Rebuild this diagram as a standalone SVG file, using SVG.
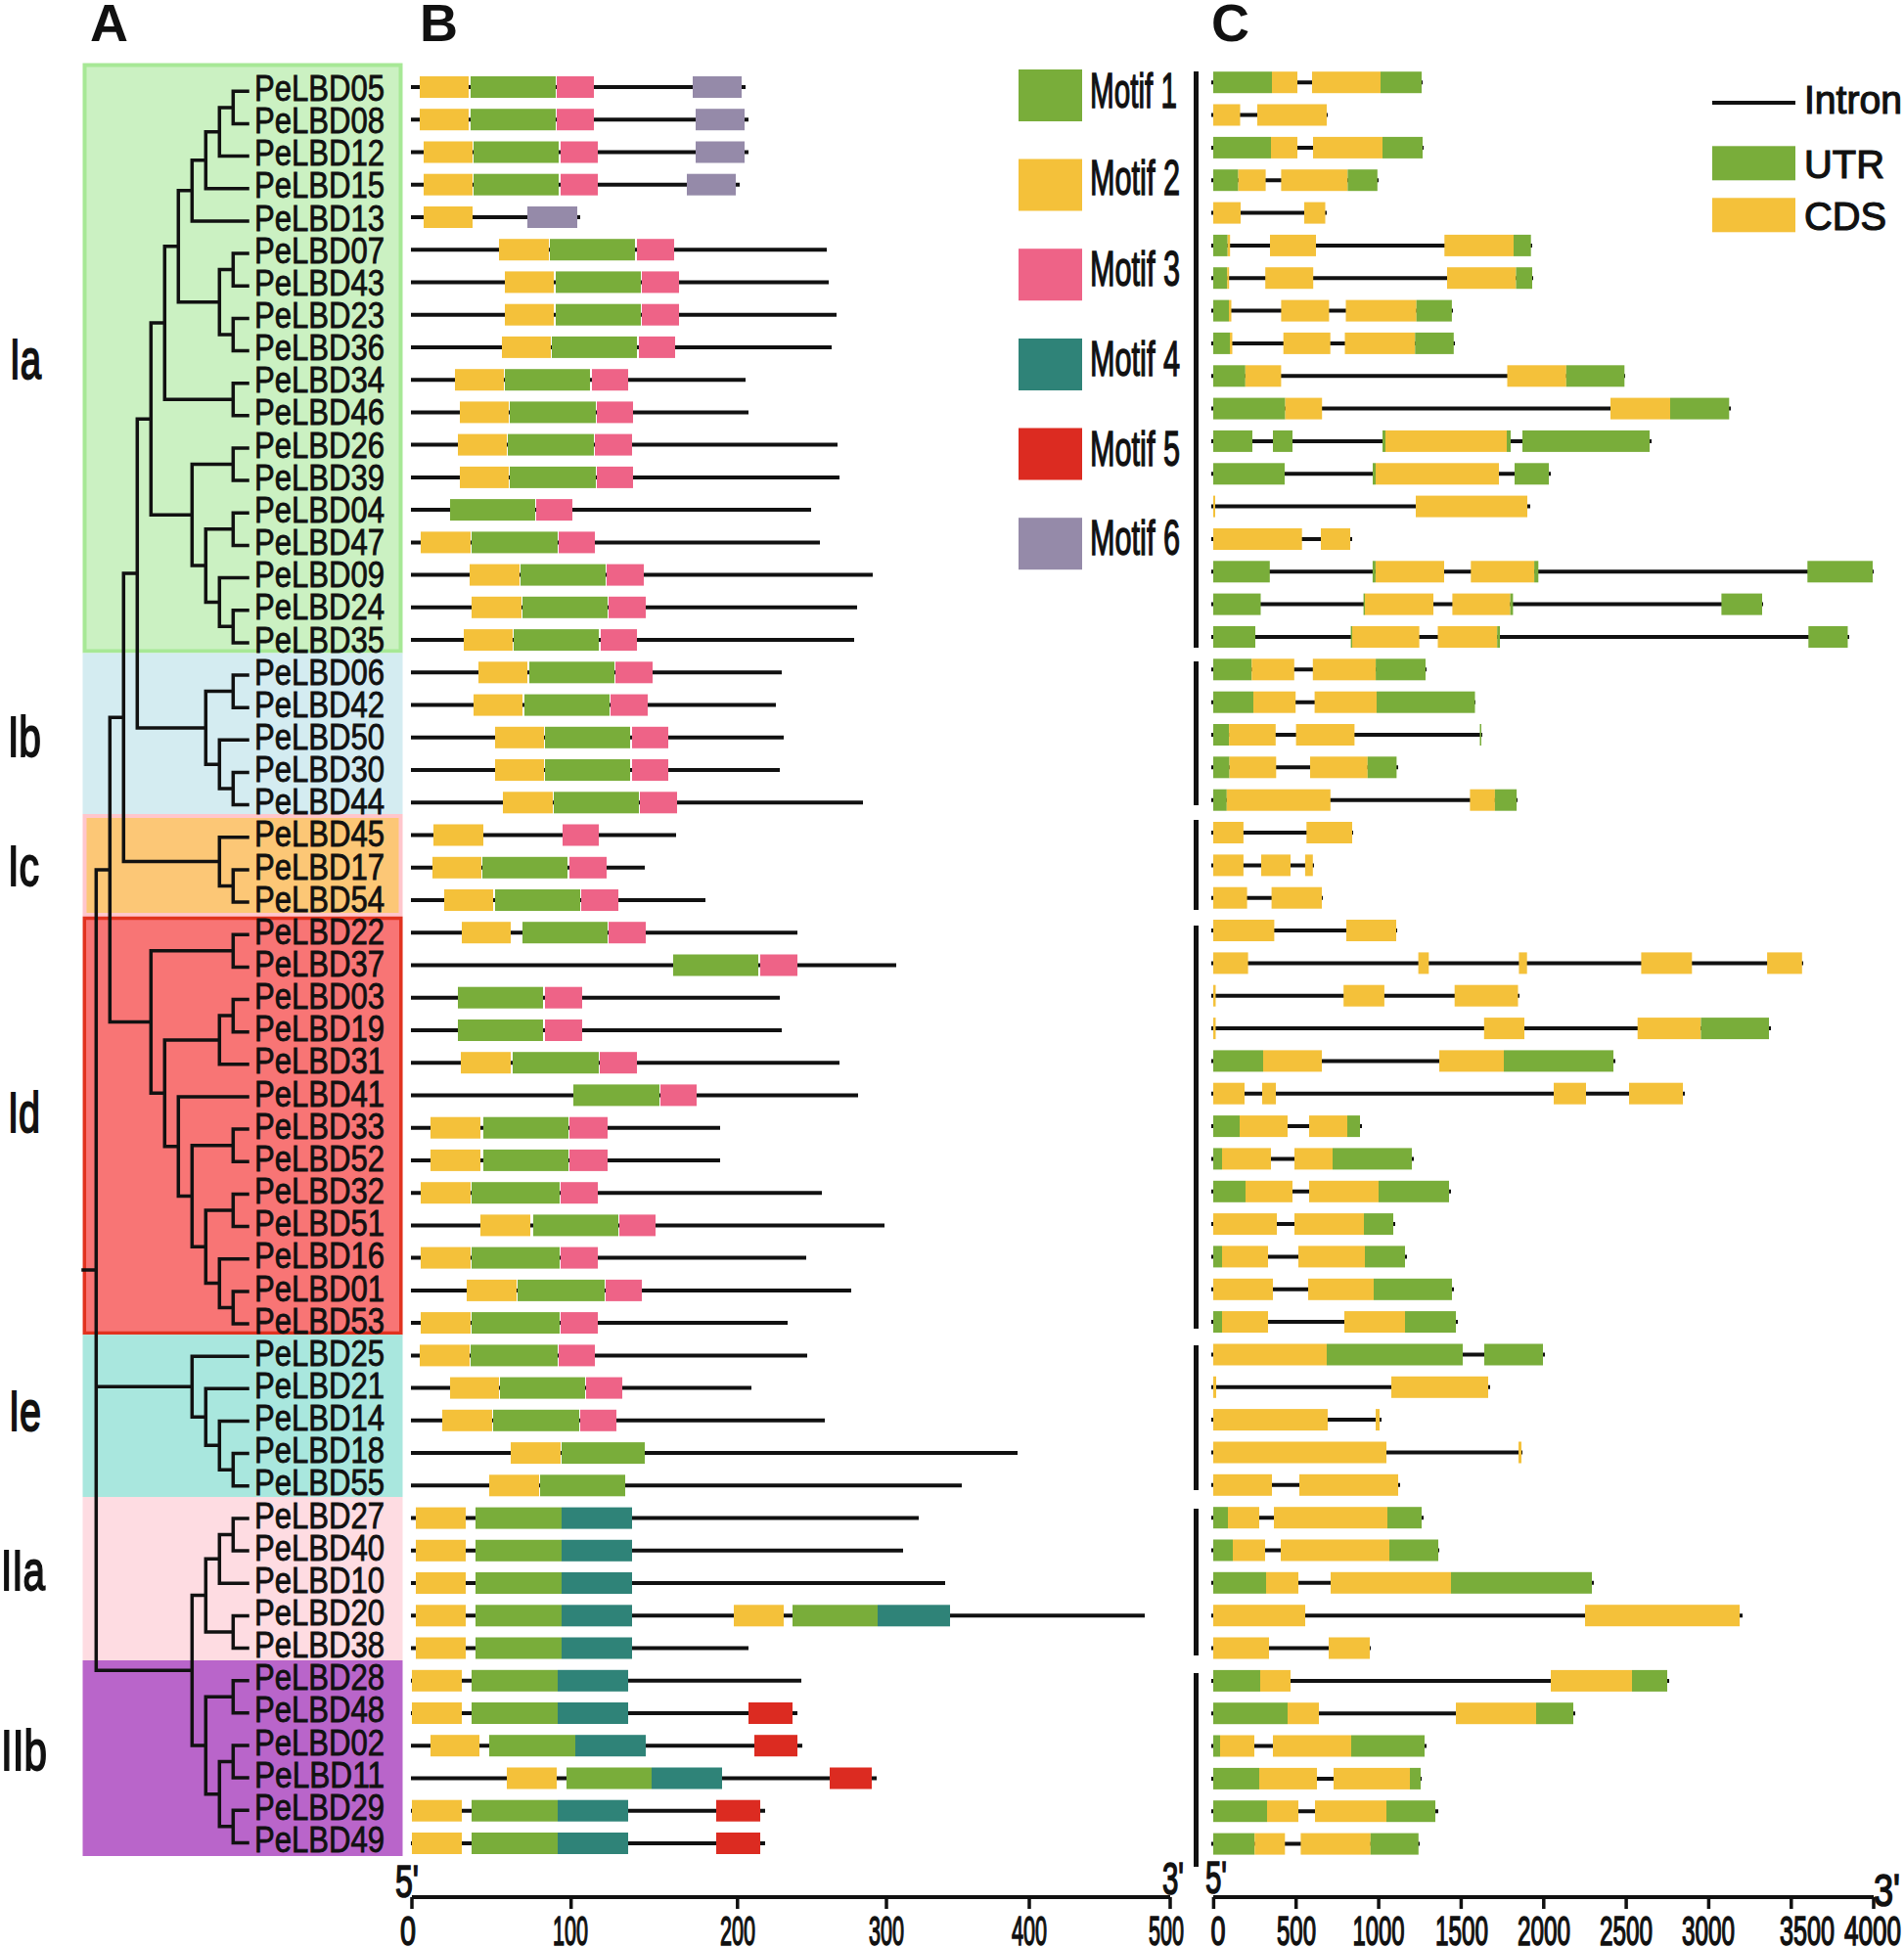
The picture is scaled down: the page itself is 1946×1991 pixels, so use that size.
<svg xmlns="http://www.w3.org/2000/svg" width="1946" height="1991" viewBox="0 0 1946 1991">
<style>
text{font-family:"Liberation Sans",Arial,sans-serif;fill:#111;stroke:#111}
.lbl{font-size:36px;stroke-width:0.8}
.grp{font-size:57px;stroke-width:1.8}
.pl{font-size:54px;font-weight:bold;stroke-width:0}
.mt{font-size:50px;stroke-width:1.4}
.lg{font-size:41px;stroke-width:1.2}
.ax{font-size:42px;text-anchor:middle;stroke-width:1.6}
.pr{font-size:46px;stroke-width:1.6}
.ln{stroke:#111;stroke-width:4;fill:none}
.tk{stroke:#111;stroke-width:3.5;fill:none}
.g{fill:#79ad3a}
.y{fill:#f4c13a}
.p{fill:#ee6387}
.t{fill:#2f8378}
.r{fill:#dc2b21}
.v{fill:#958aa9}
.bar{fill:#111}
.tree{fill:none;stroke:#111;stroke-width:3.5;stroke-linecap:square}
</style>
<rect width="1946" height="1991" fill="#fff"/>

<g id="panel-letters">
<text class="pl" x="92" y="42">A</text>
<text class="pl" x="429" y="42">B</text>
<text class="pl" x="1238" y="42">C</text>
</g>

<g id="clade-backgrounds">
<rect id="bg-Ia" x="86.5" y="66.5" width="323" height="599" fill="#cbf1c2" stroke="#a7e896" stroke-width="4"/>
<rect id="bg-Ib" x="84.5" y="667.5" width="327" height="164.5" fill="#d4ecf1"/>
<rect id="bg-Ic" x="86.5" y="834" width="323" height="101" fill="#fcc776" stroke="#ffc6cc" stroke-width="4"/>
<rect id="bg-Id" x="86.3" y="938.5" width="323.5" height="424" fill="#f87575" stroke="#e1321f" stroke-width="3.5"/>
<rect id="bg-Ie" x="84.5" y="1364.2" width="327" height="165.8" fill="#a9e7de"/>
<rect id="bg-IIa" x="84.5" y="1530" width="327" height="167" fill="#fedce2"/>
<rect id="bg-IIb" x="84.5" y="1697" width="327" height="200" fill="#b965ca"/>
</g>

<g id="clade-labels">
<text class="grp" x="10" y="387" textLength="32" lengthAdjust="spacingAndGlyphs">Ia</text>
<text class="grp" x="8" y="773" textLength="34" lengthAdjust="spacingAndGlyphs">Ib</text>
<text class="grp" x="8" y="905" textLength="32" lengthAdjust="spacingAndGlyphs">Ic</text>
<text class="grp" x="8" y="1157" textLength="33" lengthAdjust="spacingAndGlyphs">Id</text>
<text class="grp" x="9" y="1462" textLength="33" lengthAdjust="spacingAndGlyphs">Ie</text>
<text class="grp" x="1" y="1625" textLength="45" lengthAdjust="spacingAndGlyphs">IIa</text>
<text class="grp" x="1" y="1809" textLength="47" lengthAdjust="spacingAndGlyphs">IIb</text>
</g>

<g id="connectors">
<path class="tree" d="M85 1298.1H98.3M98.3 888.9V1707.3M98.3 888.9H112.3M98.3 1417.2H196.3M98.3 1707.3H196.3
M112.3 733.3V1044.6M112.3 733.3H126.3M112.3 1044.6H154.3
M126.3 586V880.6M126.3 586H140.3M126.3 880.6H224.3
M140.3 428.2V743.9M140.3 428.2H154.3M140.3 743.9H210.3
M154.3 330V526.3M154.3 330H168.3M154.3 526.3H196.3
M168.3 251.8V408.2M168.3 251.8H182.3M168.3 408.2H238.3
M182.3 194.8V308.8M182.3 194.8H196.3M182.3 308.8H224.3
M196.3 163.7V225.9M196.3 163.7H210.3M196.3 225.9H253
M210.3 134.7V192.8M210.3 134.7H224.3M210.3 192.8H253
M224.3 109.9V159.6M224.3 109.9H238.3M224.3 159.6H253
M253 93.3H238.3V126.5H253
M224.3 275.6V341.9M224.3 275.6H238.3M224.3 341.9H238.3
M253 259.1H238.3V292.2H253
M253 325.4H238.3V358.5H253
M253 391.7H238.3V424.8H253
M196.3 474.5V578.1M196.3 474.5H238.3M196.3 578.1H210.3
M253 458H238.3V491.1H253
M210.3 540.8V615.4M210.3 540.8H238.3M210.3 615.4H224.3
M253 524.3H238.3V557.4H253
M224.3 590.6V640.3M224.3 590.6H253M224.3 640.3H238.3
M253 623.7H238.3V656.9H253
M210.3 706.6V781.2M210.3 706.6H238.3M210.3 781.2H224.3
M253 690H238.3V723.2H253
M224.3 756.3V806M224.3 756.3H253M224.3 806H238.3
M253 789.5H238.3V822.6H253
M224.3 855.8V905.5M224.3 855.8H253M224.3 905.5H238.3
M253 888.9H238.3V922.1H253
M154.3 971.8V1117.3M154.3 971.8H238.3M154.3 1117.3H168.3
M253 955.2H238.3V988.4H253
M168.3 1062.9V1171.7M168.3 1062.9H224.3M168.3 1171.7H182.3
M224.3 1038.1V1087.8M224.3 1038.1H238.3M224.3 1087.8H253
M253 1021.5H238.3V1054.7H253
M182.3 1121V1222.5M182.3 1121H253M182.3 1222.5H196.3
M196.3 1170.7V1274.3M196.3 1170.7H238.3M196.3 1274.3H210.3
M253 1154.1H238.3V1187.3H253
M210.3 1237V1311.6M210.3 1237H238.3M210.3 1311.6H224.3
M253 1220.4H238.3V1253.6H253
M224.3 1286.7V1336.4M224.3 1286.7H253M224.3 1336.4H238.3
M253 1319.9H238.3V1353H253
M196.3 1386.2V1448.3M196.3 1386.2H253M196.3 1448.3H210.3
M210.3 1419.3V1477.3M210.3 1419.3H253M210.3 1477.3H224.3
M224.3 1452.5V1502.2M224.3 1452.5H253M224.3 1502.2H238.3
M253 1485.6H238.3V1518.8H253
M196.3 1630.6V1784M196.3 1630.6H210.3M196.3 1784H210.3
M210.3 1593.3V1667.9M210.3 1593.3H224.3M210.3 1667.9H238.3
M224.3 1568.5V1618.2M224.3 1568.5H238.3M224.3 1618.2H253
M253 1551.9H238.3V1585.1H253
M253 1651.4H238.3V1684.5H253
M210.3 1734.2V1833.7M210.3 1734.2H238.3M210.3 1833.7H224.3
M224.3 1800.5V1866.8M224.3 1800.5H238.3M224.3 1866.8H238.3
M253 1717.7H238.3V1750.8H253
M253 1784H238.3V1817.1H253
M253 1850.3H238.3V1883.4H253"/>
</g>

<g id="tree-labels" class="lbl">
<g id="t-PeLBD05"><text x="260" y="102.9" textLength="133" lengthAdjust="spacingAndGlyphs">PeLBD05</text></g>
<g id="t-PeLBD08"><text x="260" y="136.1" textLength="133" lengthAdjust="spacingAndGlyphs">PeLBD08</text></g>
<g id="t-PeLBD12"><text x="260" y="169.2" textLength="133" lengthAdjust="spacingAndGlyphs">PeLBD12</text></g>
<g id="t-PeLBD15"><text x="260" y="202.4" textLength="133" lengthAdjust="spacingAndGlyphs">PeLBD15</text></g>
<g id="t-PeLBD13"><text x="260" y="235.5" textLength="133" lengthAdjust="spacingAndGlyphs">PeLBD13</text></g>
<g id="t-PeLBD07"><text x="260" y="268.7" textLength="133" lengthAdjust="spacingAndGlyphs">PeLBD07</text></g>
<g id="t-PeLBD43"><text x="260" y="301.8" textLength="133" lengthAdjust="spacingAndGlyphs">PeLBD43</text></g>
<g id="t-PeLBD23"><text x="260" y="335" textLength="133" lengthAdjust="spacingAndGlyphs">PeLBD23</text></g>
<g id="t-PeLBD36"><text x="260" y="368.1" textLength="133" lengthAdjust="spacingAndGlyphs">PeLBD36</text></g>
<g id="t-PeLBD34"><text x="260" y="401.3" textLength="133" lengthAdjust="spacingAndGlyphs">PeLBD34</text></g>
<g id="t-PeLBD46"><text x="260" y="434.4" textLength="133" lengthAdjust="spacingAndGlyphs">PeLBD46</text></g>
<g id="t-PeLBD26"><text x="260" y="467.6" textLength="133" lengthAdjust="spacingAndGlyphs">PeLBD26</text></g>
<g id="t-PeLBD39"><text x="260" y="500.7" textLength="133" lengthAdjust="spacingAndGlyphs">PeLBD39</text></g>
<g id="t-PeLBD04"><text x="260" y="533.9" textLength="133" lengthAdjust="spacingAndGlyphs">PeLBD04</text></g>
<g id="t-PeLBD47"><text x="260" y="567" textLength="133" lengthAdjust="spacingAndGlyphs">PeLBD47</text></g>
<g id="t-PeLBD09"><text x="260" y="600.2" textLength="133" lengthAdjust="spacingAndGlyphs">PeLBD09</text></g>
<g id="t-PeLBD24"><text x="260" y="633.3" textLength="133" lengthAdjust="spacingAndGlyphs">PeLBD24</text></g>
<g id="t-PeLBD35"><text x="260" y="666.5" textLength="133" lengthAdjust="spacingAndGlyphs">PeLBD35</text></g>
<g id="t-PeLBD06"><text x="260" y="699.6" textLength="133" lengthAdjust="spacingAndGlyphs">PeLBD06</text></g>
<g id="t-PeLBD42"><text x="260" y="732.8" textLength="133" lengthAdjust="spacingAndGlyphs">PeLBD42</text></g>
<g id="t-PeLBD50"><text x="260" y="765.9" textLength="133" lengthAdjust="spacingAndGlyphs">PeLBD50</text></g>
<g id="t-PeLBD30"><text x="260" y="799.1" textLength="133" lengthAdjust="spacingAndGlyphs">PeLBD30</text></g>
<g id="t-PeLBD44"><text x="260" y="832.2" textLength="133" lengthAdjust="spacingAndGlyphs">PeLBD44</text></g>
<g id="t-PeLBD45"><text x="260" y="865.4" textLength="133" lengthAdjust="spacingAndGlyphs">PeLBD45</text></g>
<g id="t-PeLBD17"><text x="260" y="898.5" textLength="133" lengthAdjust="spacingAndGlyphs">PeLBD17</text></g>
<g id="t-PeLBD54"><text x="260" y="931.7" textLength="133" lengthAdjust="spacingAndGlyphs">PeLBD54</text></g>
<g id="t-PeLBD22"><text x="260" y="964.8" textLength="133" lengthAdjust="spacingAndGlyphs">PeLBD22</text></g>
<g id="t-PeLBD37"><text x="260" y="998" textLength="133" lengthAdjust="spacingAndGlyphs">PeLBD37</text></g>
<g id="t-PeLBD03"><text x="260" y="1031.1" textLength="133" lengthAdjust="spacingAndGlyphs">PeLBD03</text></g>
<g id="t-PeLBD19"><text x="260" y="1064.3" textLength="133" lengthAdjust="spacingAndGlyphs">PeLBD19</text></g>
<g id="t-PeLBD31"><text x="260" y="1097.4" textLength="133" lengthAdjust="spacingAndGlyphs">PeLBD31</text></g>
<g id="t-PeLBD41"><text x="260" y="1130.6" textLength="133" lengthAdjust="spacingAndGlyphs">PeLBD41</text></g>
<g id="t-PeLBD33"><text x="260" y="1163.7" textLength="133" lengthAdjust="spacingAndGlyphs">PeLBD33</text></g>
<g id="t-PeLBD52"><text x="260" y="1196.9" textLength="133" lengthAdjust="spacingAndGlyphs">PeLBD52</text></g>
<g id="t-PeLBD32"><text x="260" y="1230" textLength="133" lengthAdjust="spacingAndGlyphs">PeLBD32</text></g>
<g id="t-PeLBD51"><text x="260" y="1263.2" textLength="133" lengthAdjust="spacingAndGlyphs">PeLBD51</text></g>
<g id="t-PeLBD16"><text x="260" y="1296.3" textLength="133" lengthAdjust="spacingAndGlyphs">PeLBD16</text></g>
<g id="t-PeLBD01"><text x="260" y="1329.5" textLength="133" lengthAdjust="spacingAndGlyphs">PeLBD01</text></g>
<g id="t-PeLBD53"><text x="260" y="1362.6" textLength="133" lengthAdjust="spacingAndGlyphs">PeLBD53</text></g>
<g id="t-PeLBD25"><text x="260" y="1395.8" textLength="133" lengthAdjust="spacingAndGlyphs">PeLBD25</text></g>
<g id="t-PeLBD21"><text x="260" y="1428.9" textLength="133" lengthAdjust="spacingAndGlyphs">PeLBD21</text></g>
<g id="t-PeLBD14"><text x="260" y="1462.1" textLength="133" lengthAdjust="spacingAndGlyphs">PeLBD14</text></g>
<g id="t-PeLBD18"><text x="260" y="1495.2" textLength="133" lengthAdjust="spacingAndGlyphs">PeLBD18</text></g>
<g id="t-PeLBD55"><text x="260" y="1528.4" textLength="133" lengthAdjust="spacingAndGlyphs">PeLBD55</text></g>
<g id="t-PeLBD27"><text x="260" y="1561.5" textLength="133" lengthAdjust="spacingAndGlyphs">PeLBD27</text></g>
<g id="t-PeLBD40"><text x="260" y="1594.7" textLength="133" lengthAdjust="spacingAndGlyphs">PeLBD40</text></g>
<g id="t-PeLBD10"><text x="260" y="1627.8" textLength="133" lengthAdjust="spacingAndGlyphs">PeLBD10</text></g>
<g id="t-PeLBD20"><text x="260" y="1661" textLength="133" lengthAdjust="spacingAndGlyphs">PeLBD20</text></g>
<g id="t-PeLBD38"><text x="260" y="1694.1" textLength="133" lengthAdjust="spacingAndGlyphs">PeLBD38</text></g>
<g id="t-PeLBD28"><text x="260" y="1727.3" textLength="133" lengthAdjust="spacingAndGlyphs">PeLBD28</text></g>
<g id="t-PeLBD48"><text x="260" y="1760.4" textLength="133" lengthAdjust="spacingAndGlyphs">PeLBD48</text></g>
<g id="t-PeLBD02"><text x="260" y="1793.6" textLength="133" lengthAdjust="spacingAndGlyphs">PeLBD02</text></g>
<g id="t-PeLBD11"><text x="260" y="1826.7" textLength="133" lengthAdjust="spacingAndGlyphs">PeLBD11</text></g>
<g id="t-PeLBD29"><text x="260" y="1859.9" textLength="133" lengthAdjust="spacingAndGlyphs">PeLBD29</text></g>
<g id="t-PeLBD49"><text x="260" y="1893" textLength="133" lengthAdjust="spacingAndGlyphs">PeLBD49</text></g>
</g>

<g id="motif-rows">
<g id="m-PeLBD05" transform="translate(0,89)"><path class="ln" d="M420 0H762"/><rect class="y" x="429" y="-11" width="50" height="22"/><rect class="g" x="481" y="-11" width="87" height="22"/><rect class="p" x="569" y="-11" width="38" height="22"/><rect class="v" x="708" y="-11" width="50" height="22"/></g>
<g id="m-PeLBD08" transform="translate(0,122.2)"><path class="ln" d="M420 0H765"/><rect class="y" x="429" y="-11" width="50" height="22"/><rect class="g" x="481" y="-11" width="87" height="22"/><rect class="p" x="569" y="-11" width="38" height="22"/><rect class="v" x="711" y="-11" width="50" height="22"/></g>
<g id="m-PeLBD12" transform="translate(0,155.5)"><path class="ln" d="M420 0H765"/><rect class="y" x="433" y="-11" width="50" height="22"/><rect class="g" x="484" y="-11" width="87" height="22"/><rect class="p" x="573" y="-11" width="38" height="22"/><rect class="v" x="711" y="-11" width="50" height="22"/></g>
<g id="m-PeLBD15" transform="translate(0,188.7)"><path class="ln" d="M420 0H756"/><rect class="y" x="433" y="-11" width="50" height="22"/><rect class="g" x="484" y="-11" width="87" height="22"/><rect class="p" x="573" y="-11" width="38" height="22"/><rect class="v" x="702" y="-11" width="50" height="22"/></g>
<g id="m-PeLBD13" transform="translate(0,222)"><path class="ln" d="M420 0H593"/><rect class="y" x="433" y="-11" width="50" height="22"/><rect class="v" x="539" y="-11" width="51" height="22"/></g>
<g id="m-PeLBD07" transform="translate(0,255.2)"><path class="ln" d="M420 0H845"/><rect class="y" x="510" y="-11" width="51" height="22"/><rect class="g" x="562" y="-11" width="87" height="22"/><rect class="p" x="651" y="-11" width="38" height="22"/></g>
<g id="m-PeLBD43" transform="translate(0,288.4)"><path class="ln" d="M420 0H847"/><rect class="y" x="516" y="-11" width="50" height="22"/><rect class="g" x="568" y="-11" width="87" height="22"/><rect class="p" x="656" y="-11" width="38" height="22"/></g>
<g id="m-PeLBD23" transform="translate(0,321.7)"><path class="ln" d="M420 0H855"/><rect class="y" x="516" y="-11" width="50" height="22"/><rect class="g" x="568" y="-11" width="87" height="22"/><rect class="p" x="656" y="-11" width="38" height="22"/></g>
<g id="m-PeLBD36" transform="translate(0,354.9)"><path class="ln" d="M420 0H850"/><rect class="y" x="513" y="-11" width="50" height="22"/><rect class="g" x="564" y="-11" width="87" height="22"/><rect class="p" x="653" y="-11" width="37" height="22"/></g>
<g id="m-PeLBD34" transform="translate(0,388.2)"><path class="ln" d="M420 0H762"/><rect class="y" x="465" y="-11" width="50" height="22"/><rect class="g" x="516" y="-11" width="87" height="22"/><rect class="p" x="605" y="-11" width="37" height="22"/></g>
<g id="m-PeLBD46" transform="translate(0,421.4)"><path class="ln" d="M420 0H765"/><rect class="y" x="470" y="-11" width="50" height="22"/><rect class="g" x="521" y="-11" width="88" height="22"/><rect class="p" x="610" y="-11" width="37" height="22"/></g>
<g id="m-PeLBD26" transform="translate(0,454.6)"><path class="ln" d="M420 0H856"/><rect class="y" x="468" y="-11" width="50" height="22"/><rect class="g" x="519" y="-11" width="88" height="22"/><rect class="p" x="608" y="-11" width="38" height="22"/></g>
<g id="m-PeLBD39" transform="translate(0,487.9)"><path class="ln" d="M420 0H858"/><rect class="y" x="470" y="-11" width="50" height="22"/><rect class="g" x="521" y="-11" width="88" height="22"/><rect class="p" x="610" y="-11" width="37" height="22"/></g>
<g id="m-PeLBD04" transform="translate(0,521.1)"><path class="ln" d="M420 0H829"/><rect class="g" x="460" y="-11" width="87" height="22"/><rect class="p" x="548" y="-11" width="37" height="22"/></g>
<g id="m-PeLBD47" transform="translate(0,554.4)"><path class="ln" d="M420 0H838"/><rect class="y" x="430" y="-11" width="51" height="22"/><rect class="g" x="482" y="-11" width="88" height="22"/><rect class="p" x="571" y="-11" width="37" height="22"/></g>
<g id="m-PeLBD09" transform="translate(0,587.6)"><path class="ln" d="M420 0H892"/><rect class="y" x="480" y="-11" width="51" height="22"/><rect class="g" x="532" y="-11" width="87" height="22"/><rect class="p" x="620" y="-11" width="38" height="22"/></g>
<g id="m-PeLBD24" transform="translate(0,620.8)"><path class="ln" d="M420 0H876"/><rect class="y" x="482" y="-11" width="51" height="22"/><rect class="g" x="534" y="-11" width="87" height="22"/><rect class="p" x="622" y="-11" width="38" height="22"/></g>
<g id="m-PeLBD35" transform="translate(0,654.1)"><path class="ln" d="M420 0H873"/><rect class="y" x="474" y="-11" width="50" height="22"/><rect class="g" x="525" y="-11" width="87" height="22"/><rect class="p" x="614" y="-11" width="37" height="22"/></g>
<g id="m-PeLBD06" transform="translate(0,687.3)"><path class="ln" d="M420 0H799"/><rect class="y" x="489" y="-11" width="50" height="22"/><rect class="g" x="541" y="-11" width="87" height="22"/><rect class="p" x="629" y="-11" width="38" height="22"/></g>
<g id="m-PeLBD42" transform="translate(0,720.6)"><path class="ln" d="M420 0H793"/><rect class="y" x="484" y="-11" width="50" height="22"/><rect class="g" x="536" y="-11" width="87" height="22"/><rect class="p" x="624" y="-11" width="38" height="22"/></g>
<g id="m-PeLBD50" transform="translate(0,753.8)"><path class="ln" d="M420 0H801"/><rect class="y" x="506" y="-11" width="50" height="22"/><rect class="g" x="557" y="-11" width="87" height="22"/><rect class="p" x="646" y="-11" width="37" height="22"/></g>
<g id="m-PeLBD30" transform="translate(0,787)"><path class="ln" d="M420 0H797"/><rect class="y" x="506" y="-11" width="50" height="22"/><rect class="g" x="557" y="-11" width="87" height="22"/><rect class="p" x="646" y="-11" width="37" height="22"/></g>
<g id="m-PeLBD44" transform="translate(0,820.3)"><path class="ln" d="M420 0H882"/><rect class="y" x="514" y="-11" width="51" height="22"/><rect class="g" x="566" y="-11" width="87" height="22"/><rect class="p" x="654" y="-11" width="38" height="22"/></g>
<g id="m-PeLBD45" transform="translate(0,853.5)"><path class="ln" d="M420 0H691"/><rect class="y" x="443" y="-11" width="51" height="22"/><rect class="p" x="575" y="-11" width="37" height="22"/></g>
<g id="m-PeLBD17" transform="translate(0,886.8)"><path class="ln" d="M420 0H659"/><rect class="y" x="442" y="-11" width="50" height="22"/><rect class="g" x="493" y="-11" width="87" height="22"/><rect class="p" x="582" y="-11" width="38" height="22"/></g>
<g id="m-PeLBD54" transform="translate(0,920)"><path class="ln" d="M420 0H721"/><rect class="y" x="454" y="-11" width="50" height="22"/><rect class="g" x="506" y="-11" width="87" height="22"/><rect class="p" x="594" y="-11" width="38" height="22"/></g>
<g id="m-PeLBD22" transform="translate(0,953.2)"><path class="ln" d="M420 0H815"/><rect class="y" x="472" y="-11" width="50" height="22"/><rect class="g" x="534" y="-11" width="87" height="22"/><rect class="p" x="622" y="-11" width="38" height="22"/></g>
<g id="m-PeLBD37" transform="translate(0,986.5)"><path class="ln" d="M420 0H916"/><rect class="g" x="688" y="-11" width="87" height="22"/><rect class="p" x="777" y="-11" width="38" height="22"/></g>
<g id="m-PeLBD03" transform="translate(0,1019.7)"><path class="ln" d="M420 0H797"/><rect class="g" x="468" y="-11" width="87" height="22"/><rect class="p" x="557" y="-11" width="38" height="22"/></g>
<g id="m-PeLBD19" transform="translate(0,1053)"><path class="ln" d="M420 0H799"/><rect class="g" x="468" y="-11" width="87" height="22"/><rect class="p" x="557" y="-11" width="38" height="22"/></g>
<g id="m-PeLBD31" transform="translate(0,1086.2)"><path class="ln" d="M420 0H858"/><rect class="y" x="471" y="-11" width="51" height="22"/><rect class="g" x="524" y="-11" width="88" height="22"/><rect class="p" x="613" y="-11" width="38" height="22"/></g>
<g id="m-PeLBD41" transform="translate(0,1119.4)"><path class="ln" d="M420 0H877"/><rect class="g" x="586" y="-11" width="88" height="22"/><rect class="p" x="675" y="-11" width="37" height="22"/></g>
<g id="m-PeLBD33" transform="translate(0,1152.7)"><path class="ln" d="M420 0H736"/><rect class="y" x="440" y="-11" width="51" height="22"/><rect class="g" x="494" y="-11" width="87" height="22"/><rect class="p" x="582" y="-11" width="39" height="22"/></g>
<g id="m-PeLBD52" transform="translate(0,1185.9)"><path class="ln" d="M420 0H736"/><rect class="y" x="440" y="-11" width="51" height="22"/><rect class="g" x="494" y="-11" width="87" height="22"/><rect class="p" x="582" y="-11" width="39" height="22"/></g>
<g id="m-PeLBD32" transform="translate(0,1219.2)"><path class="ln" d="M420 0H840"/><rect class="y" x="430" y="-11" width="51" height="22"/><rect class="g" x="482" y="-11" width="90" height="22"/><rect class="p" x="573" y="-11" width="38" height="22"/></g>
<g id="m-PeLBD51" transform="translate(0,1252.4)"><path class="ln" d="M420 0H904"/><rect class="y" x="491" y="-11" width="51" height="22"/><rect class="g" x="545" y="-11" width="87" height="22"/><rect class="p" x="633" y="-11" width="37" height="22"/></g>
<g id="m-PeLBD16" transform="translate(0,1285.6)"><path class="ln" d="M420 0H824"/><rect class="y" x="430" y="-11" width="51" height="22"/><rect class="g" x="482" y="-11" width="90" height="22"/><rect class="p" x="573" y="-11" width="38" height="22"/></g>
<g id="m-PeLBD01" transform="translate(0,1318.9)"><path class="ln" d="M420 0H870"/><rect class="y" x="477" y="-11" width="51" height="22"/><rect class="g" x="529" y="-11" width="89" height="22"/><rect class="p" x="619" y="-11" width="37" height="22"/></g>
<g id="m-PeLBD53" transform="translate(0,1352.1)"><path class="ln" d="M420 0H805"/><rect class="y" x="430" y="-11" width="51" height="22"/><rect class="g" x="482" y="-11" width="90" height="22"/><rect class="p" x="573" y="-11" width="38" height="22"/></g>
<g id="m-PeLBD25" transform="translate(0,1385.4)"><path class="ln" d="M420 0H825"/><rect class="y" x="429" y="-11" width="51" height="22"/><rect class="g" x="481" y="-11" width="89" height="22"/><rect class="p" x="571" y="-11" width="37" height="22"/></g>
<g id="m-PeLBD21" transform="translate(0,1418.6)"><path class="ln" d="M420 0H768"/><rect class="y" x="460" y="-11" width="50" height="22"/><rect class="g" x="511" y="-11" width="87" height="22"/><rect class="p" x="599" y="-11" width="37" height="22"/></g>
<g id="m-PeLBD14" transform="translate(0,1451.8)"><path class="ln" d="M420 0H843"/><rect class="y" x="452" y="-11" width="51" height="22"/><rect class="g" x="504" y="-11" width="88" height="22"/><rect class="p" x="593" y="-11" width="37" height="22"/></g>
<g id="m-PeLBD18" transform="translate(0,1485.1)"><path class="ln" d="M420 0H1040"/><rect class="y" x="522" y="-11" width="51" height="22"/><rect class="g" x="574" y="-11" width="85" height="22"/></g>
<g id="m-PeLBD55" transform="translate(0,1518.3)"><path class="ln" d="M420 0H983"/><rect class="y" x="500" y="-11" width="51" height="22"/><rect class="g" x="552" y="-11" width="87" height="22"/></g>
<g id="m-PeLBD27" transform="translate(0,1551.6)"><path class="ln" d="M420 0H939"/><rect class="y" x="425" y="-11" width="51" height="22"/><rect class="g" x="486" y="-11" width="88" height="22"/><rect class="t" x="574" y="-11" width="72" height="22"/></g>
<g id="m-PeLBD40" transform="translate(0,1584.8)"><path class="ln" d="M420 0H923"/><rect class="y" x="425" y="-11" width="51" height="22"/><rect class="g" x="486" y="-11" width="88" height="22"/><rect class="t" x="574" y="-11" width="72" height="22"/></g>
<g id="m-PeLBD10" transform="translate(0,1618)"><path class="ln" d="M420 0H966"/><rect class="y" x="425" y="-11" width="51" height="22"/><rect class="g" x="486" y="-11" width="88" height="22"/><rect class="t" x="574" y="-11" width="72" height="22"/></g>
<g id="m-PeLBD20" transform="translate(0,1651.3)"><path class="ln" d="M420 0H1170"/><rect class="y" x="425" y="-11" width="51" height="22"/><rect class="g" x="486" y="-11" width="88" height="22"/><rect class="t" x="574" y="-11" width="72" height="22"/><rect class="y" x="750" y="-11" width="51" height="22"/><rect class="g" x="810" y="-11" width="87" height="22"/><rect class="t" x="897" y="-11" width="74" height="22"/></g>
<g id="m-PeLBD38" transform="translate(0,1684.5)"><path class="ln" d="M420 0H765"/><rect class="y" x="425" y="-11" width="51" height="22"/><rect class="g" x="486" y="-11" width="88" height="22"/><rect class="t" x="574" y="-11" width="72" height="22"/></g>
<g id="m-PeLBD28" transform="translate(0,1717.8)"><path class="ln" d="M420 0H819"/><rect class="y" x="421" y="-11" width="51" height="22"/><rect class="g" x="482" y="-11" width="88" height="22"/><rect class="t" x="570" y="-11" width="72" height="22"/></g>
<g id="m-PeLBD48" transform="translate(0,1751)"><path class="ln" d="M420 0H815"/><rect class="y" x="421" y="-11" width="51" height="22"/><rect class="g" x="482" y="-11" width="88" height="22"/><rect class="t" x="570" y="-11" width="72" height="22"/><rect class="r" x="765" y="-11" width="45" height="22"/></g>
<g id="m-PeLBD02" transform="translate(0,1784.2)"><path class="ln" d="M420 0H820"/><rect class="y" x="440" y="-11" width="50" height="22"/><rect class="g" x="500" y="-11" width="88" height="22"/><rect class="t" x="588" y="-11" width="72" height="22"/><rect class="r" x="771" y="-11" width="44" height="22"/></g>
<g id="m-PeLBD11" transform="translate(0,1817.5)"><path class="ln" d="M420 0H896"/><rect class="y" x="518" y="-11" width="51" height="22"/><rect class="g" x="579" y="-11" width="87" height="22"/><rect class="t" x="666" y="-11" width="72" height="22"/><rect class="r" x="848" y="-11" width="43" height="22"/></g>
<g id="m-PeLBD29" transform="translate(0,1850.7)"><path class="ln" d="M420 0H782"/><rect class="y" x="421" y="-11" width="51" height="22"/><rect class="g" x="482" y="-11" width="88" height="22"/><rect class="t" x="570" y="-11" width="72" height="22"/><rect class="r" x="732" y="-11" width="45" height="22"/></g>
<g id="m-PeLBD49" transform="translate(0,1884)"><path class="ln" d="M420 0H782"/><rect class="y" x="421" y="-11" width="51" height="22"/><rect class="g" x="482" y="-11" width="88" height="22"/><rect class="t" x="570" y="-11" width="72" height="22"/><rect class="r" x="732" y="-11" width="45" height="22"/></g>
</g>

<g id="motif-legend">
<rect class="g" x="1041" y="71" width="65" height="53"/>
<rect class="y" x="1041" y="162.5" width="65" height="53"/>
<rect class="p" x="1041" y="254.2" width="65" height="53"/>
<rect class="t" x="1041" y="346" width="65" height="53"/>
<rect class="r" x="1041" y="437.5" width="65" height="53"/>
<rect class="v" x="1041" y="529.2" width="65" height="53"/>
<text class="mt" x="1114" y="109.6" textLength="89" lengthAdjust="spacingAndGlyphs">Motif 1</text>
<text class="mt" x="1114" y="199" textLength="92" lengthAdjust="spacingAndGlyphs">Motif 2</text>
<text class="mt" x="1114" y="291.8" textLength="92" lengthAdjust="spacingAndGlyphs">Motif 3</text>
<text class="mt" x="1114" y="383.6" textLength="92" lengthAdjust="spacingAndGlyphs">Motif 4</text>
<text class="mt" x="1114" y="475.7" textLength="92" lengthAdjust="spacingAndGlyphs">Motif 5</text>
<text class="mt" x="1114" y="566.8" textLength="92" lengthAdjust="spacingAndGlyphs">Motif 6</text>
</g>

<g id="structure-legend">
<path class="ln" d="M1750 105H1835"/>
<text class="lg" x="1844" y="116" textLength="100" lengthAdjust="spacingAndGlyphs">Intron</text>
<rect class="g" x="1750" y="149.3" width="85" height="35"/>
<text class="lg" x="1844" y="181.7" textLength="82" lengthAdjust="spacingAndGlyphs">UTR</text>
<rect class="y" x="1750" y="202.3" width="85" height="35"/>
<text class="lg" x="1844" y="235" textLength="84" lengthAdjust="spacingAndGlyphs">CDS</text>
</g>

<g id="clade-bars">
<rect class="bar" x="1220" y="73" width="5" height="589"/>
<rect class="bar" x="1220" y="676" width="5" height="147"/>
<rect class="bar" x="1220" y="838" width="5" height="92"/>
<rect class="bar" x="1220" y="946" width="5" height="412"/>
<rect class="bar" x="1220" y="1375" width="5" height="148"/>
<rect class="bar" x="1220" y="1542" width="5" height="150"/>
<rect class="bar" x="1220" y="1710" width="5" height="198"/>
</g>

<g id="structure-rows">
<g id="s-PeLBD05" transform="translate(0,84.2)"><path class="ln" d="M1238 0H1454"/><rect class="g" x="1240" y="-11" width="60" height="22"/><rect class="y" x="1300" y="-11" width="26" height="22"/><rect class="y" x="1341" y="-11" width="70" height="22"/><rect class="g" x="1411" y="-11" width="42" height="22"/></g>
<g id="s-PeLBD08" transform="translate(0,117.5)"><path class="ln" d="M1238 0H1357"/><rect class="y" x="1240" y="-11" width="27.5" height="22"/><rect class="y" x="1285" y="-11" width="71" height="22"/></g>
<g id="s-PeLBD12" transform="translate(0,150.9)"><path class="ln" d="M1238 0H1455"/><rect class="g" x="1240" y="-11" width="59" height="22"/><rect class="y" x="1299" y="-11" width="27" height="22"/><rect class="y" x="1342" y="-11" width="71" height="22"/><rect class="g" x="1413" y="-11" width="41" height="22"/></g>
<g id="s-PeLBD15" transform="translate(0,184.2)"><path class="ln" d="M1238 0H1409"/><rect class="g" x="1240" y="-11" width="25.6" height="22"/><rect class="y" x="1265.6" y="-11" width="28" height="22"/><rect class="y" x="1309.4" y="-11" width="68" height="22"/><rect class="g" x="1377.4" y="-11" width="30.4" height="22"/></g>
<g id="s-PeLBD13" transform="translate(0,217.6)"><path class="ln" d="M1238 0H1356"/><rect class="y" x="1240" y="-11" width="28" height="22"/><rect class="y" x="1333" y="-11" width="21.5" height="22"/></g>
<g id="s-PeLBD07" transform="translate(0,250.9)"><path class="ln" d="M1238 0H1566"/><rect class="g" x="1240" y="-11" width="14.7" height="22"/><rect class="y" x="1254.7" y="-11" width="2.5" height="22"/><rect class="y" x="1298" y="-11" width="47" height="22"/><rect class="y" x="1476.3" y="-11" width="70.7" height="22"/><rect class="g" x="1547" y="-11" width="17.7" height="22"/></g>
<g id="s-PeLBD43" transform="translate(0,284.2)"><path class="ln" d="M1238 0H1567"/><rect class="g" x="1240" y="-11" width="14.2" height="22"/><rect class="y" x="1254.2" y="-11" width="2" height="22"/><rect class="y" x="1293.2" y="-11" width="49" height="22"/><rect class="y" x="1479" y="-11" width="70.5" height="22"/><rect class="g" x="1549.5" y="-11" width="16.5" height="22"/></g>
<g id="s-PeLBD23" transform="translate(0,317.6)"><path class="ln" d="M1238 0H1485"/><rect class="g" x="1240" y="-11" width="16" height="22"/><rect class="y" x="1256" y="-11" width="2.5" height="22"/><rect class="y" x="1309.4" y="-11" width="49" height="22"/><rect class="y" x="1375.5" y="-11" width="72.2" height="22"/><rect class="g" x="1447.7" y="-11" width="36.2" height="22"/></g>
<g id="s-PeLBD36" transform="translate(0,350.9)"><path class="ln" d="M1238 0H1487"/><rect class="g" x="1240" y="-11" width="17" height="22"/><rect class="y" x="1257" y="-11" width="2.5" height="22"/><rect class="y" x="1311.7" y="-11" width="48" height="22"/><rect class="y" x="1374.5" y="-11" width="71.8" height="22"/><rect class="g" x="1446.3" y="-11" width="39.5" height="22"/></g>
<g id="s-PeLBD34" transform="translate(0,384.3)"><path class="ln" d="M1238 0H1661"/><rect class="g" x="1240" y="-11" width="32.8" height="22"/><rect class="y" x="1272.8" y="-11" width="36.6" height="22"/><rect class="y" x="1540.5" y="-11" width="60.3" height="22"/><rect class="g" x="1600.8" y="-11" width="59.5" height="22"/></g>
<g id="s-PeLBD46" transform="translate(0,417.6)"><path class="ln" d="M1238 0H1769"/><rect class="g" x="1240" y="-11" width="73.6" height="22"/><rect class="y" x="1313.6" y="-11" width="37.6" height="22"/><rect class="y" x="1646" y="-11" width="61" height="22"/><rect class="g" x="1707" y="-11" width="60.3" height="22"/></g>
<g id="s-PeLBD26" transform="translate(0,450.9)"><path class="ln" d="M1238 0H1688"/><rect class="g" x="1240" y="-11" width="40" height="22"/><rect class="g" x="1301" y="-11" width="20" height="22"/><rect class="g" x="1413" y="-11" width="3" height="22"/><rect class="y" x="1416" y="-11" width="124" height="22"/><rect class="g" x="1540" y="-11" width="4" height="22"/><rect class="g" x="1556" y="-11" width="130" height="22"/></g>
<g id="s-PeLBD39" transform="translate(0,484.3)"><path class="ln" d="M1238 0H1585"/><rect class="g" x="1240" y="-11" width="73" height="22"/><rect class="g" x="1403" y="-11" width="3" height="22"/><rect class="y" x="1406" y="-11" width="126" height="22"/><rect class="g" x="1548" y="-11" width="35" height="22"/></g>
<g id="s-PeLBD04" transform="translate(0,517.6)"><path class="ln" d="M1238 0H1564"/><rect class="y" x="1240" y="-11" width="2" height="22"/><rect class="y" x="1447" y="-11" width="114" height="22"/></g>
<g id="s-PeLBD47" transform="translate(0,551)"><path class="ln" d="M1238 0H1382"/><rect class="y" x="1240" y="-11" width="90.7" height="22"/><rect class="y" x="1350" y="-11" width="30" height="22"/></g>
<g id="s-PeLBD09" transform="translate(0,584.3)"><path class="ln" d="M1238 0H1915"/><rect class="g" x="1240" y="-11" width="57.8" height="22"/><rect class="g" x="1402.9" y="-11" width="3" height="22"/><rect class="y" x="1406" y="-11" width="70" height="22"/><rect class="y" x="1503.3" y="-11" width="64.8" height="22"/><rect class="g" x="1568.1" y="-11" width="4.2" height="22"/><rect class="g" x="1847.3" y="-11" width="66.7" height="22"/></g>
<g id="s-PeLBD24" transform="translate(0,617.6)"><path class="ln" d="M1238 0H1802"/><rect class="g" x="1240" y="-11" width="48.5" height="22"/><rect class="g" x="1393.6" y="-11" width="1.5" height="22"/><rect class="y" x="1395" y="-11" width="70" height="22"/><rect class="y" x="1484.4" y="-11" width="59.2" height="22"/><rect class="g" x="1543.6" y="-11" width="2.8" height="22"/><rect class="g" x="1759.4" y="-11" width="41.6" height="22"/></g>
<g id="s-PeLBD35" transform="translate(0,651)"><path class="ln" d="M1238 0H1890"/><rect class="g" x="1240" y="-11" width="43" height="22"/><rect class="g" x="1380.6" y="-11" width="1.5" height="22"/><rect class="y" x="1382" y="-11" width="68.6" height="22"/><rect class="y" x="1469.5" y="-11" width="60.7" height="22"/><rect class="g" x="1530.2" y="-11" width="2.8" height="22"/><rect class="g" x="1848.3" y="-11" width="40.2" height="22"/></g>
<g id="s-PeLBD06" transform="translate(0,684.3)"><path class="ln" d="M1238 0H1458"/><rect class="g" x="1240" y="-11" width="39.3" height="22"/><rect class="y" x="1279.3" y="-11" width="43.5" height="22"/><rect class="y" x="1341.8" y="-11" width="64.3" height="22"/><rect class="g" x="1406.1" y="-11" width="50.9" height="22"/></g>
<g id="s-PeLBD42" transform="translate(0,717.7)"><path class="ln" d="M1238 0H1508"/><rect class="g" x="1240" y="-11" width="41" height="22"/><rect class="y" x="1281" y="-11" width="43.2" height="22"/><rect class="y" x="1343.6" y="-11" width="63.4" height="22"/><rect class="g" x="1407" y="-11" width="100.5" height="22"/></g>
<g id="s-PeLBD50" transform="translate(0,751)"><path class="ln" d="M1238 0H1515"/><rect class="g" x="1240" y="-11" width="16.1" height="22"/><rect class="y" x="1256.1" y="-11" width="47.7" height="22"/><rect class="y" x="1324.6" y="-11" width="59.8" height="22"/><rect class="g" x="1512.5" y="-11" width="1.5" height="22"/></g>
<g id="s-PeLBD30" transform="translate(0,784.3)"><path class="ln" d="M1238 0H1429"/><rect class="g" x="1240" y="-11" width="16.6" height="22"/><rect class="y" x="1256.6" y="-11" width="47.7" height="22"/><rect class="y" x="1339" y="-11" width="58.8" height="22"/><rect class="g" x="1397.8" y="-11" width="29.6" height="22"/></g>
<g id="s-PeLBD44" transform="translate(0,817.7)"><path class="ln" d="M1238 0H1551"/><rect class="g" x="1240" y="-11" width="13.8" height="22"/><rect class="y" x="1253.8" y="-11" width="106" height="22"/><rect class="y" x="1502.4" y="-11" width="25.5" height="22"/><rect class="g" x="1527.9" y="-11" width="22.2" height="22"/></g>
<g id="s-PeLBD45" transform="translate(0,851)"><path class="ln" d="M1238 0H1383"/><rect class="y" x="1240" y="-11" width="30.9" height="22"/><rect class="y" x="1335.3" y="-11" width="46.7" height="22"/></g>
<g id="s-PeLBD17" transform="translate(0,884.4)"><path class="ln" d="M1238 0H1343"/><rect class="y" x="1240" y="-11" width="30.9" height="22"/><rect class="y" x="1289" y="-11" width="30" height="22"/><rect class="y" x="1333.9" y="-11" width="7.9" height="22"/></g>
<g id="s-PeLBD54" transform="translate(0,917.7)"><path class="ln" d="M1238 0H1352"/><rect class="y" x="1240" y="-11" width="34.6" height="22"/><rect class="y" x="1299.6" y="-11" width="51.4" height="22"/></g>
<g id="s-PeLBD22" transform="translate(0,951)"><path class="ln" d="M1238 0H1428"/><rect class="y" x="1240" y="-11" width="62.4" height="22"/><rect class="y" x="1376" y="-11" width="51" height="22"/></g>
<g id="s-PeLBD37" transform="translate(0,984.4)"><path class="ln" d="M1238 0H1843"/><rect class="y" x="1240" y="-11" width="35.6" height="22"/><rect class="y" x="1449.6" y="-11" width="10.7" height="22"/><rect class="y" x="1552.4" y="-11" width="8.3" height="22"/><rect class="y" x="1677.4" y="-11" width="51.9" height="22"/><rect class="y" x="1806.1" y="-11" width="35.7" height="22"/></g>
<g id="s-PeLBD03" transform="translate(0,1017.7)"><path class="ln" d="M1238 0H1553"/><rect class="y" x="1240" y="-11" width="2.5" height="22"/><rect class="y" x="1373.2" y="-11" width="41.7" height="22"/><rect class="y" x="1486.7" y="-11" width="64.8" height="22"/></g>
<g id="s-PeLBD19" transform="translate(0,1051.1)"><path class="ln" d="M1238 0H1810"/><rect class="y" x="1240" y="-11" width="2.5" height="22"/><rect class="y" x="1516.8" y="-11" width="41.2" height="22"/><rect class="y" x="1673.7" y="-11" width="64.8" height="22"/><rect class="g" x="1738.5" y="-11" width="69.5" height="22"/></g>
<g id="s-PeLBD31" transform="translate(0,1084.4)"><path class="ln" d="M1238 0H1651"/><rect class="g" x="1240" y="-11" width="51" height="22"/><rect class="y" x="1291" y="-11" width="60" height="22"/><rect class="y" x="1471" y="-11" width="66" height="22"/><rect class="g" x="1537" y="-11" width="112" height="22"/></g>
<g id="s-PeLBD41" transform="translate(0,1117.7)"><path class="ln" d="M1238 0H1722"/><rect class="y" x="1240" y="-11" width="32" height="22"/><rect class="y" x="1290" y="-11" width="14" height="22"/><rect class="y" x="1588" y="-11" width="33" height="22"/><rect class="y" x="1665" y="-11" width="55" height="22"/></g>
<g id="s-PeLBD33" transform="translate(0,1151.1)"><path class="ln" d="M1238 0H1392"/><rect class="g" x="1240" y="-11" width="27" height="22"/><rect class="y" x="1267" y="-11" width="49" height="22"/><rect class="y" x="1338" y="-11" width="39" height="22"/><rect class="g" x="1377" y="-11" width="13" height="22"/></g>
<g id="s-PeLBD52" transform="translate(0,1184.4)"><path class="ln" d="M1238 0H1445"/><rect class="g" x="1240" y="-11" width="9" height="22"/><rect class="y" x="1249" y="-11" width="50" height="22"/><rect class="y" x="1323" y="-11" width="39" height="22"/><rect class="g" x="1362" y="-11" width="81" height="22"/></g>
<g id="s-PeLBD32" transform="translate(0,1217.8)"><path class="ln" d="M1238 0H1483"/><rect class="g" x="1240" y="-11" width="33" height="22"/><rect class="y" x="1273" y="-11" width="48" height="22"/><rect class="y" x="1338" y="-11" width="71" height="22"/><rect class="g" x="1409" y="-11" width="72" height="22"/></g>
<g id="s-PeLBD51" transform="translate(0,1251.1)"><path class="ln" d="M1238 0H1426"/><rect class="y" x="1240" y="-11" width="65" height="22"/><rect class="y" x="1323" y="-11" width="71" height="22"/><rect class="g" x="1394" y="-11" width="30" height="22"/></g>
<g id="s-PeLBD16" transform="translate(0,1284.4)"><path class="ln" d="M1238 0H1438"/><rect class="g" x="1240" y="-11" width="9" height="22"/><rect class="y" x="1249" y="-11" width="47" height="22"/><rect class="y" x="1327" y="-11" width="68" height="22"/><rect class="g" x="1395" y="-11" width="41" height="22"/></g>
<g id="s-PeLBD01" transform="translate(0,1317.8)"><path class="ln" d="M1238 0H1486"/><rect class="y" x="1240" y="-11" width="61" height="22"/><rect class="y" x="1337" y="-11" width="67" height="22"/><rect class="g" x="1404" y="-11" width="80" height="22"/></g>
<g id="s-PeLBD53" transform="translate(0,1351.1)"><path class="ln" d="M1238 0H1490"/><rect class="g" x="1240" y="-11" width="9" height="22"/><rect class="y" x="1249" y="-11" width="47" height="22"/><rect class="y" x="1374" y="-11" width="62" height="22"/><rect class="g" x="1436" y="-11" width="52" height="22"/></g>
<g id="s-PeLBD25" transform="translate(0,1384.5)"><path class="ln" d="M1238 0H1579"/><rect class="y" x="1240" y="-11" width="116" height="22"/><rect class="g" x="1356" y="-11" width="139" height="22"/><rect class="g" x="1517" y="-11" width="60" height="22"/></g>
<g id="s-PeLBD21" transform="translate(0,1417.8)"><path class="ln" d="M1238 0H1523"/><rect class="y" x="1240" y="-11" width="3" height="22"/><rect class="y" x="1422" y="-11" width="99" height="22"/></g>
<g id="s-PeLBD14" transform="translate(0,1451.1)"><path class="ln" d="M1238 0H1412"/><rect class="y" x="1240" y="-11" width="117" height="22"/><rect class="y" x="1406" y="-11" width="4" height="22"/></g>
<g id="s-PeLBD18" transform="translate(0,1484.5)"><path class="ln" d="M1238 0H1556"/><rect class="y" x="1240" y="-11" width="177" height="22"/><rect class="y" x="1552" y="-11" width="3" height="22"/></g>
<g id="s-PeLBD55" transform="translate(0,1517.8)"><path class="ln" d="M1238 0H1431"/><rect class="y" x="1240" y="-11" width="60" height="22"/><rect class="y" x="1328" y="-11" width="101" height="22"/></g>
<g id="s-PeLBD27" transform="translate(0,1551.2)"><path class="ln" d="M1238 0H1455"/><rect class="g" x="1240" y="-11" width="15" height="22"/><rect class="y" x="1255" y="-11" width="32" height="22"/><rect class="y" x="1302" y="-11" width="116" height="22"/><rect class="g" x="1418" y="-11" width="35" height="22"/></g>
<g id="s-PeLBD40" transform="translate(0,1584.5)"><path class="ln" d="M1238 0H1471"/><rect class="g" x="1240" y="-11" width="20" height="22"/><rect class="y" x="1260" y="-11" width="33" height="22"/><rect class="y" x="1309" y="-11" width="111" height="22"/><rect class="g" x="1420" y="-11" width="50" height="22"/></g>
<g id="s-PeLBD10" transform="translate(0,1617.8)"><path class="ln" d="M1238 0H1629"/><rect class="g" x="1240" y="-11" width="54" height="22"/><rect class="y" x="1294" y="-11" width="33" height="22"/><rect class="y" x="1360" y="-11" width="123" height="22"/><rect class="g" x="1483" y="-11" width="144" height="22"/></g>
<g id="s-PeLBD20" transform="translate(0,1651.2)"><path class="ln" d="M1238 0H1781"/><rect class="y" x="1240" y="-11" width="94" height="22"/><rect class="y" x="1620" y="-11" width="158" height="22"/></g>
<g id="s-PeLBD38" transform="translate(0,1684.5)"><path class="ln" d="M1238 0H1401"/><rect class="y" x="1240" y="-11" width="57" height="22"/><rect class="y" x="1358" y="-11" width="42" height="22"/></g>
<g id="s-PeLBD28" transform="translate(0,1717.9)"><path class="ln" d="M1238 0H1706"/><rect class="g" x="1240" y="-11" width="48" height="22"/><rect class="y" x="1288" y="-11" width="31" height="22"/><rect class="y" x="1585" y="-11" width="83" height="22"/><rect class="g" x="1668" y="-11" width="36" height="22"/></g>
<g id="s-PeLBD48" transform="translate(0,1751.2)"><path class="ln" d="M1238 0H1610"/><rect class="g" x="1240" y="-11" width="76" height="22"/><rect class="y" x="1316" y="-11" width="32" height="22"/><rect class="y" x="1488" y="-11" width="82" height="22"/><rect class="g" x="1570" y="-11" width="38" height="22"/></g>
<g id="s-PeLBD02" transform="translate(0,1784.5)"><path class="ln" d="M1238 0H1458"/><rect class="g" x="1240" y="-11" width="7" height="22"/><rect class="y" x="1247" y="-11" width="35" height="22"/><rect class="y" x="1301" y="-11" width="80" height="22"/><rect class="g" x="1381" y="-11" width="75" height="22"/></g>
<g id="s-PeLBD11" transform="translate(0,1817.9)"><path class="ln" d="M1238 0H1453"/><rect class="g" x="1240" y="-11" width="47" height="22"/><rect class="y" x="1287" y="-11" width="59" height="22"/><rect class="y" x="1363" y="-11" width="78" height="22"/><rect class="g" x="1441" y="-11" width="11" height="22"/></g>
<g id="s-PeLBD29" transform="translate(0,1851.2)"><path class="ln" d="M1238 0H1470"/><rect class="g" x="1240" y="-11" width="55" height="22"/><rect class="y" x="1295" y="-11" width="32" height="22"/><rect class="y" x="1344" y="-11" width="73" height="22"/><rect class="g" x="1417" y="-11" width="50" height="22"/></g>
<g id="s-PeLBD49" transform="translate(0,1884.6)"><path class="ln" d="M1238 0H1451"/><rect class="g" x="1240" y="-11" width="42.3" height="22"/><rect class="y" x="1282.3" y="-11" width="31" height="22"/><rect class="y" x="1329.4" y="-11" width="71.4" height="22"/><rect class="g" x="1400.8" y="-11" width="49" height="22"/></g>
</g>

<g id="axis-motif">
<path class="ln" d="M421 1939H1196"/>
<path class="tk" d="M421 1939V1951M583.7 1939V1951M753.8 1939V1951M906 1939V1951M1052 1939V1951M1196 1939V1951"/>
<text class="pr" x="404" y="1939" textLength="24" lengthAdjust="spacingAndGlyphs">5'</text>
<text class="pr" x="1188" y="1936" textLength="22" lengthAdjust="spacingAndGlyphs">3'</text>
<text class="ax" x="417" y="1988" textLength="16" lengthAdjust="spacingAndGlyphs">0</text>
<text class="ax" x="583" y="1988" textLength="36" lengthAdjust="spacingAndGlyphs">100</text>
<text class="ax" x="754" y="1988" textLength="36" lengthAdjust="spacingAndGlyphs">200</text>
<text class="ax" x="906" y="1988" textLength="36" lengthAdjust="spacingAndGlyphs">300</text>
<text class="ax" x="1052" y="1988" textLength="36" lengthAdjust="spacingAndGlyphs">400</text>
<text class="ax" x="1192" y="1988" textLength="36" lengthAdjust="spacingAndGlyphs">500</text>
</g>

<g id="axis-gene">
<path class="ln" d="M1240 1939H1915"/>
<path class="tk" d="M1240.4 1939V1951M1324.7 1939V1951M1409.1 1939V1951M1493.4 1939V1951M1577.8 1939V1951M1662.1 1939V1951M1746.4 1939V1951M1830.8 1939V1951M1915 1939V1951"/>
<text class="pr" x="1232" y="1935" textLength="22" lengthAdjust="spacingAndGlyphs">5'</text>
<text class="pr" x="1915" y="1948" textLength="27" lengthAdjust="spacingAndGlyphs">3'</text>
<text class="ax" x="1245" y="1988" textLength="15" lengthAdjust="spacingAndGlyphs">0</text>
<text class="ax" x="1325" y="1988" textLength="40" lengthAdjust="spacingAndGlyphs">500</text>
<text class="ax" x="1409" y="1988" textLength="53" lengthAdjust="spacingAndGlyphs">1000</text>
<text class="ax" x="1494" y="1988" textLength="54" lengthAdjust="spacingAndGlyphs">1500</text>
<text class="ax" x="1578" y="1988" textLength="54" lengthAdjust="spacingAndGlyphs">2000</text>
<text class="ax" x="1662" y="1988" textLength="54" lengthAdjust="spacingAndGlyphs">2500</text>
<text class="ax" x="1746" y="1988" textLength="54" lengthAdjust="spacingAndGlyphs">3000</text>
<text class="ax" x="1847" y="1988" textLength="56" lengthAdjust="spacingAndGlyphs">3500</text>
<text class="ax" x="1914" y="1988" textLength="58" lengthAdjust="spacingAndGlyphs">4000</text>
</g>
</svg>
